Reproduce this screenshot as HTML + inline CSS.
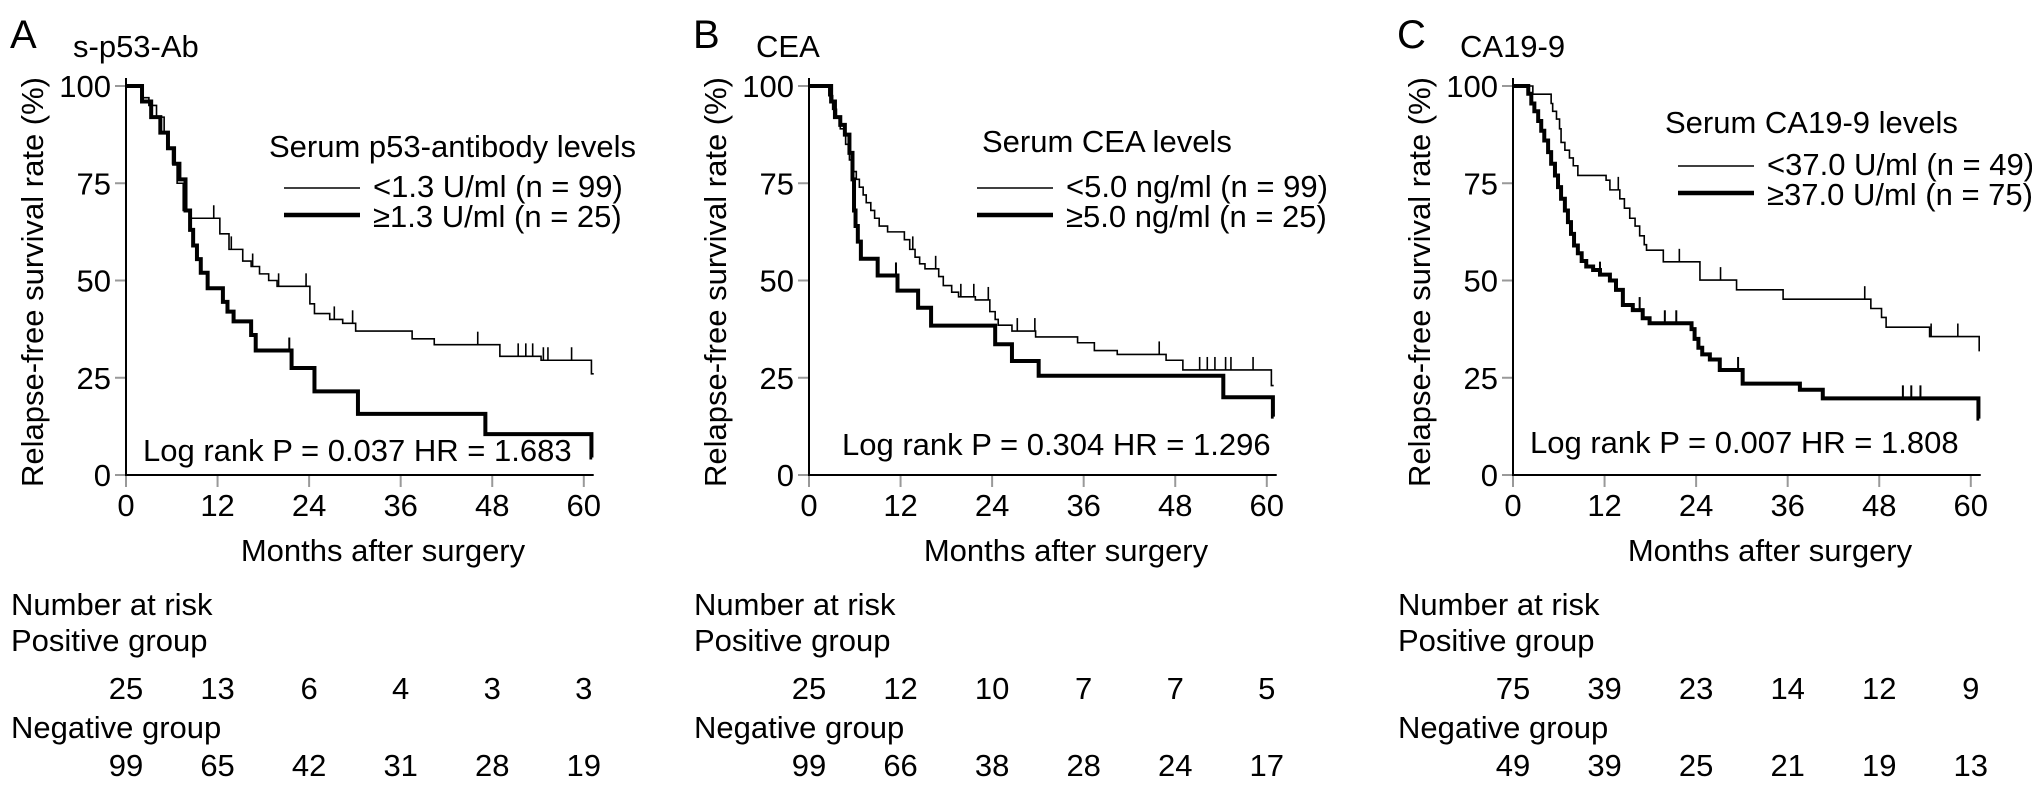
<!DOCTYPE html>
<html><head><meta charset="utf-8">
<style>
html,body{margin:0;padding:0;background:#fff;}
svg{display:block;font-family:"Liberation Sans",Arial,sans-serif;}
</style></head>
<body>
<svg id="fig" width="2032" height="789" viewBox="0 0 2032 789" xmlns="http://www.w3.org/2000/svg"></svg>
<script>
// ---- data ----
const monthTicks = [0, 12, 24, 36, 48, 60];
const pctTicks = [0, 25, 50, 75, 100];

const aThinT = [2.2,3,4,5,5.6,6.1,6.7,7.5,8.4,12.3,13.5,15.3,16.4,17.5,18.7,19.8,24.1,24.7,26.7,28.4,30.1,37.5,40.4,49,54.4,61];
const aThinV = [97,95,92,88,84,80,75,68,66,62,58,55,53.6,51.7,50,48.5,44,41.5,40,39,37,35,33.5,30.5,29.5,26];
const aThinC = [11.5,13.8,16.6,20,23.6,27.3,29.7,46.1,51.4,52.4,53.3,54.7,55.3,58.4];
const aThickT = [2.1,3.3,4.5,5.5,6.3,7,7.8,8.4,8.8,9.3,9.8,10.7,12.7,13.3,14.1,16.4,17,21.7,24.7,30.4,47.1,61];
const aThickV = [96,92,88,84,80,76,68,63,59,55.5,52,48,44.5,42,39.5,36,32,27.5,21.5,15.7,10.5,4.5];
const aThickC = [21.4];

const bThinT = [2.6,3.1,3.6,4.1,4.8,5.3,5.8,6.2,6.6,7.1,7.5,8.1,8.6,9.2,10.3,12.5,13.2,13.9,14.5,15.2,17.0,17.6,18.7,19.6,21.8,23.7,24.4,24.8,26.6,29.7,35.2,37.4,40.4,46.8,49,60.6];
const bThinV = [97.5,94,92,89,85,81,78,76,74,72,70,68,66,64,62.5,60.5,58,56,54.3,53,51,48.7,47,45.8,45,42,40,38.5,37,35.5,34,32,31,29.5,27,23];
const bThinC = [13.6,16.6,19.9,21.6,23.5,27.3,29.6,45.9,51.2,52.2,53.2,54.6,55.3,58.2];
const bThickT = [2.9,3.4,4.1,4.7,5.3,5.7,5.9,6.1,6.4,6.8,9.0,11.6,14.3,16.0,24.4,26.6,30.1,54.3,60.8];
const bThickV = [96,92,90,87.5,82.8,76,68,64,60,55.6,51.3,47.4,43,38.4,33.6,29.3,25.5,20,15];
const bThickC = [11.4];

const cThinT = [2.6,5.0,5.2,5.7,6.1,6.3,6.8,7.4,7.9,8.5,12.2,12.7,14.0,14.6,15.3,16.0,16.6,17.2,17.5,19.7,24.5,29.3,35.4,46.9,48.3,48.9,54.6,61.1];
const cThinV = [97.9,95.5,93.5,91.5,89,85.5,83.5,81.5,79.5,77,75.8,73.3,71,68.6,66,64,61.5,59.2,57.8,54.8,50.1,47.6,45.2,42.8,40.5,38,35.6,32];
const cThinC = [13.8,21.8,27.2,46.1,54.8,58.3];
const cThickT = [2.0,2.4,2.8,3.3,3.7,4.1,4.6,5.0,5.5,5.9,6.3,6.8,7.2,7.6,8.0,8.5,9.0,9.6,10.5,11.4,12.7,13.5,14.4,15.7,17.0,17.9,23.4,23.8,24.3,24.8,25.8,27.1,30.1,37.6,40.6,61.0];
const cThickV = [98,95.5,93.5,91,88.5,86,83,80,77,74,71,68,65,62,59,57,55,53.6,52.7,51.5,50,47.6,43.7,42.4,40.3,39,37.5,35,32.7,31,29.7,27,23.5,21.9,19.7,14.5];
const cThickC = [11.4,16.6,19.9,21.4,29.5,51.1,52.2,53.4];

const aRiskPos = [25,13,6,4,3,3];
const aRiskNeg = [99,65,42,31,28,19];
const bRiskPos = [25,12,10,7,7,5];
const bRiskNeg = [99,66,38,28,24,17];
const cRiskPos = [75,39,23,14,12,9];
const cRiskNeg = [49,39,25,21,19,13];

const panelLetters = ["A","B","C"];
const panelTitles = ["s-p53-Ab","CEA","CA19-9"];
const legendTitles = ["Serum p53-antibody levels","Serum CEA levels","Serum CA19-9 levels"];
const legendThin = ["<1.3 U/ml (n = 99)","<5.0 ng/ml (n = 99)","<37.0 U/ml (n = 49)"];
const legendThick = ["\u22651.3 U/ml (n = 25)","\u22655.0 ng/ml (n = 25)","\u226537.0 U/ml (n = 75)"];
const logRankTexts = ["Log rank P = 0.037 HR = 1.683","Log rank P = 0.304 HR = 1.296","Log rank P = 0.007 HR = 1.808"];

// ---- layout ----
const NS = "http://www.w3.org/2000/svg";
const svg = document.getElementById("fig");
const axX0 = [126, 809, 1513];
const pxPerMonth = 7.63;
const yZero = 475, yHundred = 86;
const ends = [[61.3, 61.1],[60.9, 60.9],[61.2, 61.1]];
const FS = 31;

function el(tag, attrs, parent) {
  const e = document.createElementNS(NS, tag);
  for (const k in attrs) e.setAttribute(k, attrs[k]);
  (parent || svg).appendChild(e);
  return e;
}
function txt(s, attrs, parent) {
  const t = el("text", attrs, parent);
  t.textContent = s;
  return t;
}

function drawPanel(p, thinT, thinV, thinC, thickT, thickV, thickC, riskPos, riskNeg) {
  const g = el("g", {});
  
  
  const x = m => axX0[p] + m * pxPerMonth;
  const y = v => yZero - (v / 100) * (yZero - yHundred);
  const ax = axX0[p];

  let t = txt(panelLetters[p], {x: ax - 116, y: 48, "font-size": 40}, g);
  
  
  t = txt(panelTitles[p], {x: ax - 53, y: 57, "font-size": FS}, g);
  
  

  t = txt("Relapse-free survival rate (%)", {x: 0, y: 0, "font-size": FS, "text-anchor": "middle",
      transform: "translate(" + (ax - 83) + "," + 282 + ") rotate(-90)"}, g);
  
  

  pctTicks.forEach(v => {
    const tk = el("line", {x1: ax - 11, x2: ax, y1: y(v), y2: y(v), stroke: "#999", "stroke-width": 2}, g);
    
    
    const lb = txt(String(v), {x: ax - 15, y: y(v) + 11, "font-size": FS, "text-anchor": "end"}, g);
    
    
  });
  monthTicks.forEach(m => {
    const tk = el("line", {x1: x(m), x2: x(m), y1: yZero, y2: yZero + 12, stroke: "#999", "stroke-width": 2}, g);
    
    
    const lb = txt(String(m), {x: x(m), y: 516, "font-size": FS, "text-anchor": "middle"}, g);
    
    
  });
  let a = el("line", {x1: ax, x2: ax, y1: 78, y2: yZero + 1, stroke: "#000", "stroke-width": 2}, g);
  
  
  a = el("line", {x1: ax - 1, x2: x(61.3), y1: yZero, y2: yZero, stroke: "#000", "stroke-width": 2}, g);
  
  

  t = txt("Months after surgery", {x: ax + 257, y: 561, "font-size": FS, "text-anchor": "middle"}, g);
  
  

  function curve(T, V, C, endM, w, name) {
    let d = "M" + x(0) + "," + y(100);
    for (let i = 0; i < T.length; i++) {
      d += " H" + x(T[i]) + " V" + y(V[i]);
    }
    d += " H" + x(endM);
    const path = el("path", {d: d, fill: "none", stroke: "#000", "stroke-width": w, "stroke-linejoin": "miter"}, g);
    
    
    C.forEach(c => {
      let v = 100;
      for (let i = 0; i < T.length; i++) if (T[i] <= c) v = V[i];
      const cm = el("line", {x1: x(c), x2: x(c), y1: y(v), y2: y(v) - 13, stroke: "#000", "stroke-width": Math.min(w, 2)}, g);
      
      
    });
  }
  curve(thinT, thinV, thinC, ends[p][0], 1.6, 'low-group-curve');
  curve(thickT, thickV, thickC, ends[p][1], 4, 'high-group-curve');

  const lx = [ax + 143, ax + 153, ax + 150][p];
  const ly = [157, 152, 133][p];
  const lOff = [0, 0, -22][p];
  t = txt(legendTitles[p], {x: [ax + 143, ax + 173, ax + 152][p], y: ly, "font-size": FS}, g);
  
  
  let ll = el("line", {x1: lx + 15, x2: lx + 91, y1: 188 + lOff, y2: 188 + lOff, stroke: "#000", "stroke-width": 1.6}, g);
  
  
  t = txt(legendThin[p], {x: lx + 104, y: 197 + lOff, "font-size": FS}, g);
  
  
  ll = el("line", {x1: lx + 15, x2: lx + 91, y1: 215 + lOff, y2: 215 + lOff, stroke: "#000", "stroke-width": 4.5}, g);
  
  
  t = txt(legendThick[p], {x: lx + 104, y: 227 + lOff, "font-size": FS}, g);
  
  

  t = txt(logRankTexts[p], {x: [ax + 17, ax + 33, ax + 17][p], y: [461, 455, 453][p], "font-size": FS}, g);
  
  

  const nx = ax - 115;
  t = txt("Number at risk", {x: nx, y: 615, "font-size": FS}, g);
  
  
  t = txt("Positive group", {x: nx, y: 651, "font-size": FS}, g);
  
  
  t = txt("Negative group", {x: nx, y: 738, "font-size": FS}, g);
  
  
  riskPos.forEach((n, i) => {
    const c = txt(String(n), {x: x(monthTicks[i]), y: 699, "font-size": FS, "text-anchor": "middle"}, g);
    
    
  });
  riskNeg.forEach((n, i) => {
    const c = txt(String(n), {x: x(monthTicks[i]), y: 776, "font-size": FS, "text-anchor": "middle"}, g);
    
    
  });
}

drawPanel(0, aThinT, aThinV, aThinC, aThickT, aThickV, aThickC, aRiskPos, aRiskNeg);
drawPanel(1, bThinT, bThinV, bThinC, bThickT, bThickV, bThickC, bRiskPos, bRiskNeg);
drawPanel(2, cThinT, cThinV, cThinC, cThickT, cThickV, cThickC, cRiskPos, cRiskNeg);
</script>
</body></html>
